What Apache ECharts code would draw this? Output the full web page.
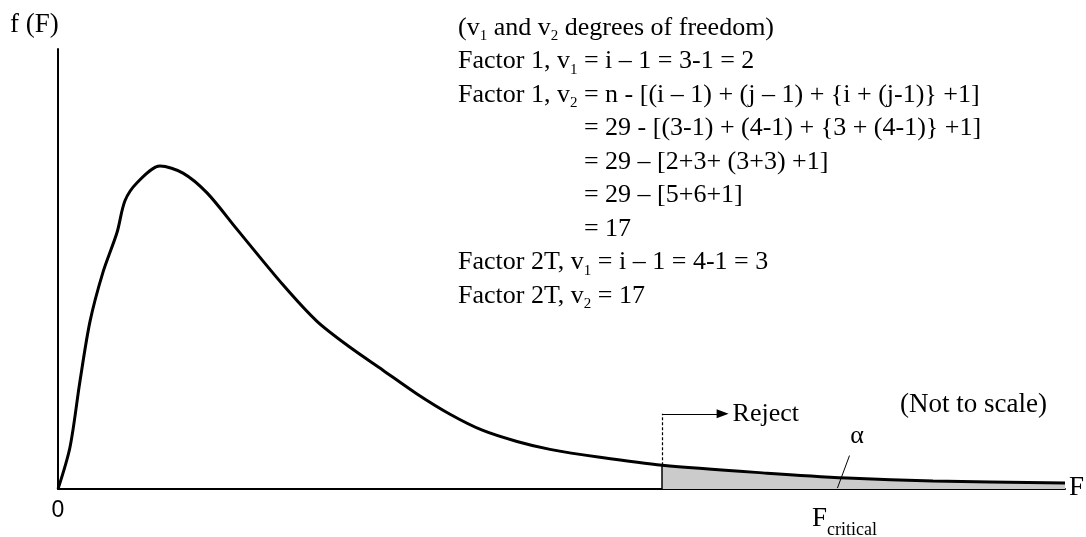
<!DOCTYPE html>
<html>
<head>
<meta charset="utf-8">
<script src="https://cdn.jsdelivr.net/npm/echarts@6/dist/echarts.min.js"></script>
<style>
  html, body { margin: 0; padding: 0; background: #fff; }
  #chart { width: 1086px; height: 537px; }
</style>
</head>
<body>
<div id="chart"></div>
<script>
// F-distribution density sketch (not to scale)
const fValues = [0, 0.119, 0.218, 0.318, 0.447, 0.586, 0.665, 0.785, 1.013, 1.241, 1.48, 1.778, 2.234, 2.572, 2.9, 3.227, 3.565, 3.893, 4.22, 4.558, 4.886, 5.382, 6.0, 7.041, 7.835, 8.689, 10.0];
const density = [0, 0.095, 0.245, 0.381, 0.493, 0.583, 0.655, 0.696, 0.734, 0.718, 0.673, 0.59, 0.464, 0.381, 0.322, 0.27, 0.216, 0.17, 0.133, 0.108, 0.09, 0.072, 0.054, 0.036, 0.025, 0.018, 0.0135];
const fCritical = 6.0;
const rejectArrowLevel = 0.171;
const rejectArrowEnd = 6.6;
const alphaLeader = [[7.86, 0.076], [7.74, 0.002]];

const notes = [
  '(v{s|1} and v{s|2} degrees of freedom)',
  'Factor 1, v{s|1} = i – 1 = 3-1 = 2',
  'Factor 1, v{s|2} = n - [(i – 1) + (j – 1) + {i + (j-1)} +1]',
  '= 29 - [(3-1) + (4-1) + {3 + (4-1)} +1]',
  '= 29 – [2+3+ (3+3) +1]',
  '= 29 – [5+6+1]',
  '= 17',
  'Factor 2T, v{s|1} = i – 1 = 4-1 = 3',
  'Factor 2T, v{s|2} = 17'
];
const noteIndent = [false, false, false, true, true, true, true, false, false];

const curve = fValues.map((f, i) => [f, density[i]]);
const tail = curve.filter(p => p[0] >= fCritical);
const critDensity = density[fValues.indexOf(fCritical)];

const serifName = '"Liberation Serif", "Times New Roman", serif';
const mainSize = 26, subSize = 15;

// continuation lines start under the "=" of the third line
const ctx = document.createElement('canvas').getContext('2d');
ctx.font = mainSize + 'px ' + serifName;
let prefixW = ctx.measureText('Factor 1, v').width + ctx.measureText(' ').width;
ctx.font = subSize + 'px ' + serifName;
prefixW += ctx.measureText('2').width;

const chart = echarts.init(document.getElementById('chart'));

const noteX = 458, noteY0 = 28, noteStep = 33.5;
const subStyle = { fontSize: subSize, fontFamily: serifName, fill: '#000', verticalAlign: 'bottom', padding: [0, 0, -3, 0] };
const noteGraphics = notes.map((t, i) => ({
  type: 'text',
  x: noteIndent[i] ? noteX + prefixW : noteX,
  y: noteY0 + i * noteStep,
  style: {
    text: t, fontFamily: serifName, fontSize: mainSize, fill: '#000',
    verticalAlign: 'middle', rich: { s: subStyle }
  }
}));

chart.setOption({
  animation: false,
  grid: { left: 58, right: 21, top: 49, bottom: 48 },
  xAxis: {
    type: 'value', min: 0, max: 10,
    axisLine: { show: true, onZero: false, lineStyle: { color: '#000', width: 2 } },
    axisTick: { show: false }, axisLabel: { show: false }, splitLine: { show: false }
  },
  yAxis: {
    type: 'value', min: 0, max: 1,
    axisLine: { show: true, lineStyle: { color: '#000', width: 2 } },
    axisTick: { show: false }, axisLabel: { show: false }, splitLine: { show: false }
  },
  series: [
    {
      type: 'line', data: tail, showSymbol: false, smooth: 0.3,
      lineStyle: { width: 0 }, areaStyle: { color: '#cbcbcb', opacity: 1 }, z: 1,
      markLine: {
        silent: true, symbol: 'none', animation: false,
        label: { show: false },
        data: [
          [{ coord: [fCritical, 0], lineStyle: { type: 'solid', width: 1.5, color: '#000' } },
           { coord: [fCritical, critDensity] }],
          [{ coord: [fCritical, critDensity], lineStyle: { type: [3, 2], width: 1.2, color: '#000' } },
           { coord: [fCritical, rejectArrowLevel] }],
          [{ coord: [fCritical, rejectArrowLevel], symbol: 'none', lineStyle: { type: 'solid', width: 1.2, color: '#000' } },
           { coord: [rejectArrowEnd, rejectArrowLevel], symbol: 'triangle', symbolSize: [9, 12], symbolRotate: -90,
             label: { show: true, position: 'end', formatter: 'Reject', fontFamily: serifName, fontSize: 26, color: '#000', distance: 10 } }],
          [{ coord: alphaLeader[0], lineStyle: { type: 'solid', width: 1, color: '#000' } },
           { coord: alphaLeader[1] }]
        ]
      }
    },
    {
      type: 'line', data: curve, showSymbol: false, smooth: 0.3,
      lineStyle: { color: '#000', width: 3 }, z: 3
    }
  ],
  graphic: [
    { type: 'text', x: 10, y: 25, style: { text: 'f (F)', fontFamily: serifName, fontSize: 27, fill: '#000', verticalAlign: 'middle' } },
    { type: 'text', x: 58, y: 511, style: { text: '0', fontFamily: '"Liberation Sans", Arial, sans-serif', fontSize: 23, fill: '#000', align: 'center', verticalAlign: 'middle' } },
    { type: 'text', x: 1069, y: 488, style: { text: 'F', fontFamily: serifName, fontSize: 27, fill: '#000', verticalAlign: 'middle' } },
    { type: 'text', x: 900, y: 405, style: { text: '(Not to scale)', fontFamily: serifName, fontSize: 27, fill: '#000', verticalAlign: 'middle' } },
    { type: 'text', x: 857, y: 436, style: { text: 'α', fontFamily: serifName, fontSize: 26, fill: '#000', align: 'center', verticalAlign: 'middle' } },
    { type: 'text', x: 812, y: 519, style: { text: 'F{s|critical}', fontFamily: serifName, fontSize: 27, fill: '#000', verticalAlign: 'middle',
      rich: { s: { fontSize: 18, fontFamily: serifName, fill: '#000', verticalAlign: 'bottom', padding: [0, 0, -7, 0] } } } }
  ].concat(noteGraphics)
});
</script>
</body>
</html>
